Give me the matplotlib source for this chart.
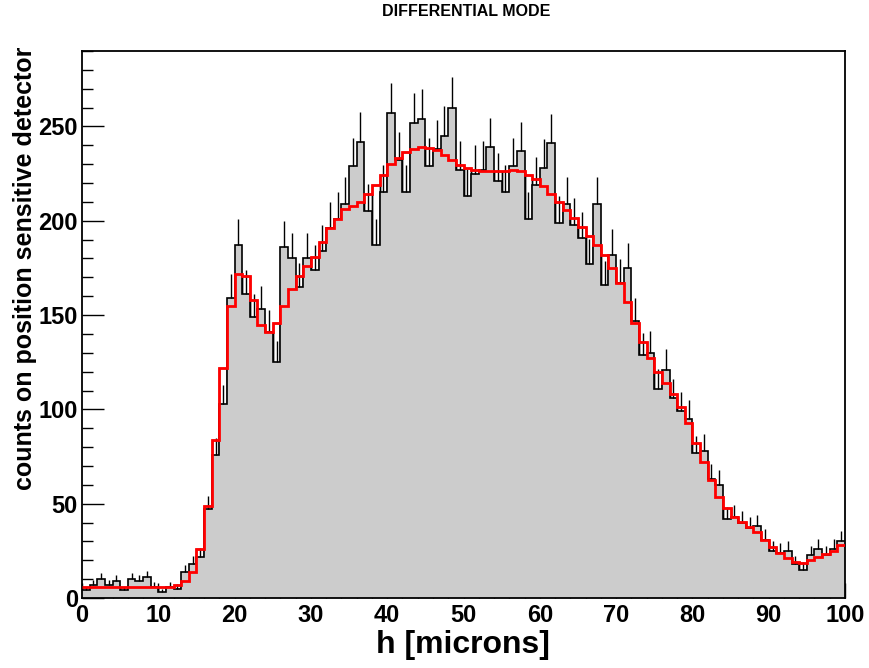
import matplotlib
matplotlib.use("Agg")
import matplotlib.pyplot as plt
import numpy as np
from matplotlib.ticker import MultipleLocator

plt.rcParams["font.family"] = ["Liberation Sans", "DejaVu Sans"]
plt.rcParams["font.weight"] = "bold"

# histogram: 100 bins of 1 micron from 0 to 100
bin_edges = np.arange(0, 101, 1)

counts = [
    4, 7, 10, 7, 9, 4, 10, 9, 11, 6,
    3, 6, 5, 14, 18, 22, 47, 76, 103, 159,
    187, 161, 149, 153, 141, 125, 186, 180, 165, 180,
    174, 184, 196, 201, 209, 229, 242, 205, 187, 215,
    257, 232, 215, 252, 254, 229, 238, 245, 260, 227,
    213, 225, 227, 239, 221, 215, 229, 237, 201, 219,
    228, 241, 199, 209, 198, 191, 177, 209, 166, 182,
    167, 175, 147, 129, 130, 111, 121, 106, 99, 95,
    77, 78, 63, 60, 42, 43, 40, 37, 38, 31,
    25, 24, 25, 18, 15, 23, 26, 23, 26, 30,
]

model = [
    6, 6, 6, 6, 6, 6, 6, 6, 6, 6,
    6, 6, 7, 9, 14, 26, 49, 84, 122, 155,
    172, 170.5, 158, 145, 141, 146, 155, 164, 170.5, 176,
    181, 189, 196, 201, 206, 208, 210, 214, 219, 224,
    230, 233.4, 236.4, 238.3, 239, 238.7, 237.3, 234.6, 232, 229.5,
    228, 227, 226.6, 226.3, 226.3, 226.5, 227, 226.3, 224.5, 221.9,
    218.3, 214.3, 210, 205.6, 201.2, 196.7, 192.1, 187, 181.7, 175,
    167, 156.8, 146, 135.5, 127.2, 119.8, 114, 108.3, 101.2, 92.7,
    82.4, 72, 62.3, 53.8, 47.6, 43.2, 40.3, 37.8, 35, 31,
    27, 23.7, 21.1, 19.3, 18.8, 20.2, 21.6, 23.4, 25, 28.1,
]

counts = np.array(counts, dtype=float)
model = np.array(model, dtype=float)
centers = 0.5 * (bin_edges[:-1] + bin_edges[1:])
errors = np.sqrt(counts)

fig = plt.figure(figsize=(8.69, 6.68), dpi=100)
ax = fig.add_axes([82 / 869, 1 - 598 / 668, 763 / 869, 547 / 668])

# model drawn as outlined bars first; the grey data fill hides the part below the data
ax.bar(bin_edges[:-1], model, width=1, align="edge", fill=False,
       edgecolor="black", linewidth=1.0, zorder=1)
ax.stairs(counts, bin_edges, fill=True, color="#cccccc", zorder=2)
ax.stairs(counts, bin_edges, baseline=None, color="black", linewidth=1.2, zorder=3)
ax.vlines(centers, counts, counts + errors, color="black", linewidth=1.0, zorder=3)
ax.stairs(model, bin_edges, baseline=None, color="red", linewidth=2.0, zorder=4)

ax.set_xlim(0, 100)
ax.set_ylim(0, 290)
ax.xaxis.set_major_locator(MultipleLocator(10))
ax.xaxis.set_minor_locator(MultipleLocator(2))
ax.yaxis.set_major_locator(MultipleLocator(50))
ax.yaxis.set_minor_locator(MultipleLocator(10))
ax.tick_params(axis="x", which="major", direction="in", length=11, width=1, pad=4, labelsize=17)
ax.tick_params(axis="x", which="minor", direction="in", length=5, width=1)
ax.tick_params(axis="y", which="major", direction="in", length=16, width=1, pad=3, labelsize=17)
ax.tick_params(axis="y", which="minor", direction="in", length=8, width=1)
for lab in ax.get_xticklabels() + ax.get_yticklabels():
    lab.set_fontweight("bold")
for sp in ax.spines.values():
    sp.set_linewidth(1.3)

fig.text(466 / 869, 1 - 12 / 668, "DIFFERENTIAL MODE", ha="center", va="center",
         fontsize=11.5, fontweight="bold")
fig.text(463 / 869, 1 - 645 / 668, "h [microns]", ha="center", va="center",
         fontsize=23, fontweight="bold")
fig.text(25 / 869, 1 - 47 / 668, "counts on position sensitive detector", rotation=90,
         ha="center", va="top", fontsize=18, fontweight="bold")

fig.savefig("out.png", dpi=100)
